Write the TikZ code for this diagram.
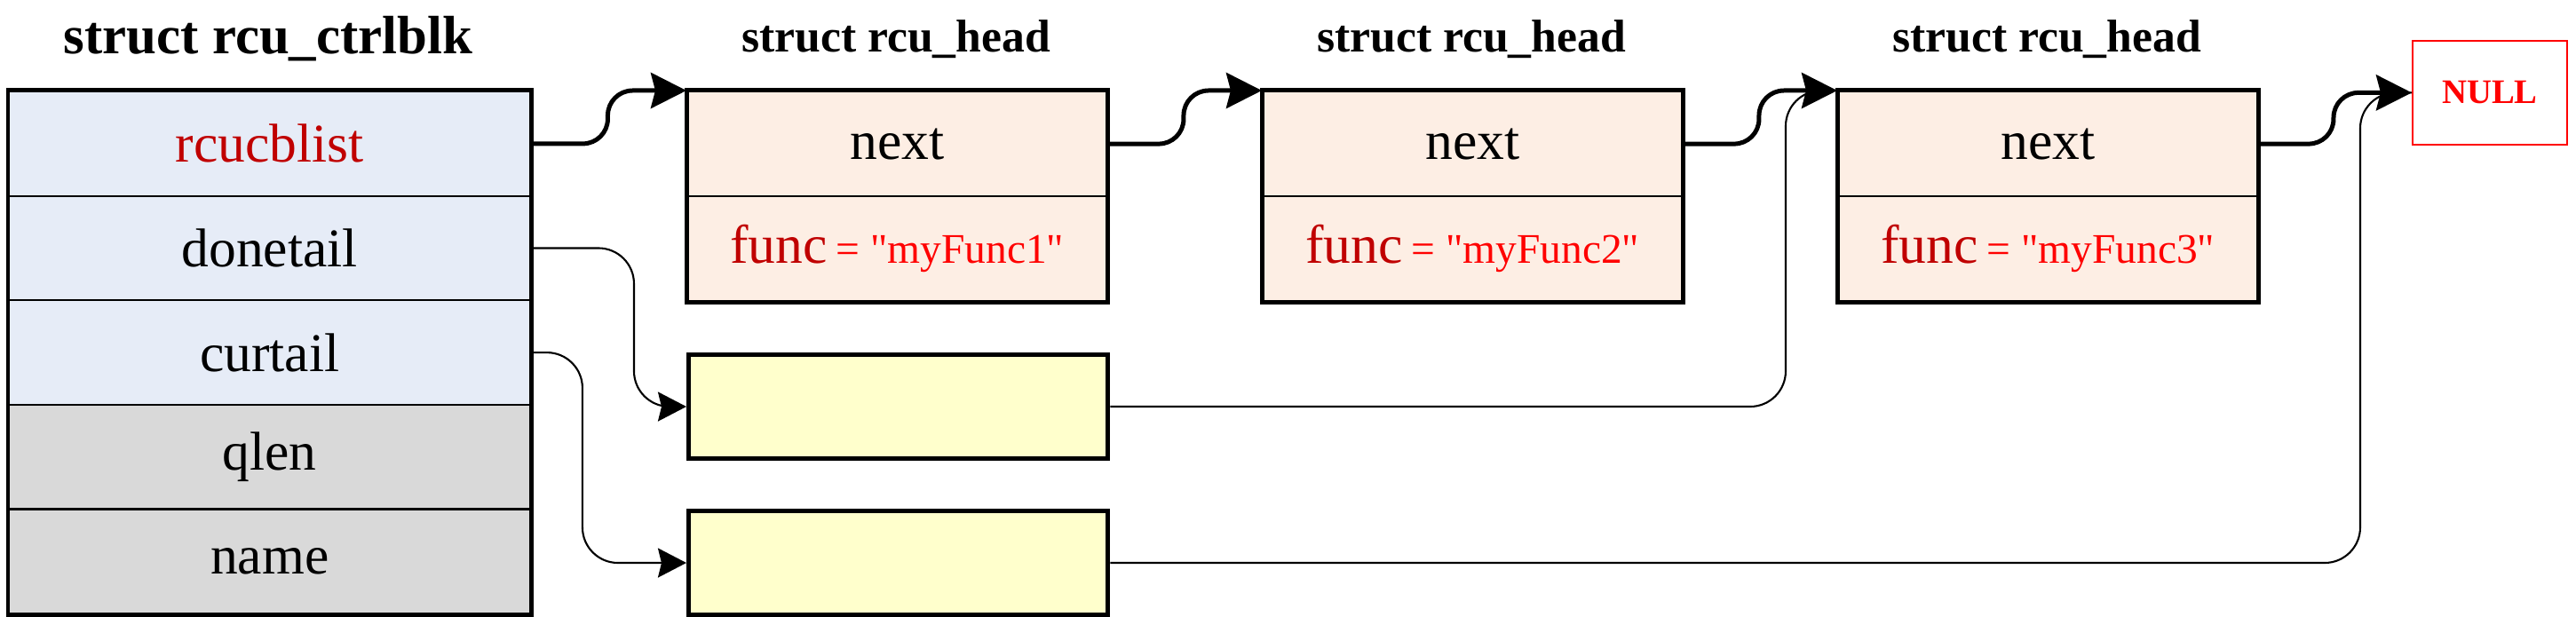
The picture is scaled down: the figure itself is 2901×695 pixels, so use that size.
\documentclass[tikz,border=0pt]{standalone}
\usepackage{fontspec}
\setmainfont{Liberation Serif}
\usetikzlibrary{arrows.meta,calc}
\definecolor{rowblue}{HTML}{E6ECF7}
\definecolor{rowgray}{HTML}{D9D9D9}
\definecolor{peach}{HTML}{FDEEE4}
\definecolor{paleyellow}{HTML}{FFFFCC}
\definecolor{darkred}{HTML}{C00000}
\definecolor{brightred}{HTML}{FF0000}
\begin{document}
\begin{tikzpicture}[x=0.01cm,y=-0.01cm,
  cell/.style={draw=black, line width=0.6pt, minimum width=5.87cm, minimum height=1.176cm,
    inner sep=0pt, anchor=north west, font=\fontsize{17.5}{20}\selectfont},
  hcell/.style={draw=black, line width=0.6pt, fill=peach, minimum width=4.72cm, minimum height=1.18cm,
    inner sep=0pt, anchor=north west, font=\fontsize{17.5}{20}\selectfont},
  ybox/.style={draw=black, line width=1.42pt, fill=paleyellow, minimum width=4.72cm, minimum height=1.17cm,
    inner sep=0pt, anchor=north west},
  border/.style={draw=black, line width=1.42pt},
  titlefont/.style={anchor=base, font=\bfseries\fontsize{14.7}{17}\selectfont},
  thickarrow/.style={line width=1.42pt, rounded corners=0.28cm,
    -{Stealth[length=0.4cm,width=0.4cm,inset=0.05cm]}},
  thinline/.style={line width=0.6pt, rounded corners=0.4cm},
  thinarrow/.style={thinline, -{Stealth[length=0.32cm,width=0.33cm,inset=0.04cm]}}
]
\useasboundingbox (0,0) rectangle (2901,695);

% titles
\node[anchor=base, font=\bfseries\fontsize{17.3}{20}\selectfont] (t0) at (302,61) {struct rcu\_ctrlblk};
\node[titlefont] (t1) at (1009,59) {struct rcu\_head};
\node[titlefont] (t2) at (1657,59) {struct rcu\_head};
\node[titlefont] (t3) at (2305,59) {struct rcu\_head};

% control block
\node[cell, fill=rowblue, text=darkred] (r1) at (9,102) {rcucblist};
\node[cell, fill=rowblue] (r2) at (9,219.6) {donetail};
\node[cell, fill=rowblue] (r3) at (9,337.2) {curtail};
\node[cell, fill=rowgray] (r4) at (9,454.8) {qlen};
\node[cell, fill=rowgray] (r5) at (9,572.4) {name};

% rcu_head boxes
\foreach \i/\x in {1/773,2/1421,3/2069}{
  \node[hcell] (h\i a) at (\x,102) {next};
  \node[hcell] (h\i b) at (\x,220) {\textcolor{darkred}{func}\,{\color{brightred}\fontsize{13.5}{16}\selectfont= \textquotedbl myFunc\i\textquotedbl}};
}

% yellow boxes
\node[ybox] (ya) at (773,397) {};
\node[ybox] (yb) at (773,573) {};

% NULL
\node[draw=brightred, line width=0.5pt, minimum width=1.74cm, minimum height=1.17cm, inner sep=0pt,
  anchor=north west, text=brightred, font=\bfseries\fontsize{11}{13}\selectfont] (nullbox) at (2716,45) {NULL};

% thin connectors
\draw[thinarrow] (r2.east) -| ([xshift=-0.59cm]ya.west) -- (ya.west);
\draw[thinarrow] (r3.east) -| ([xshift=-1.17cm]yb.west) -- (yb.west);
\draw[thinline] (ya.east) -| ([xshift=-0.58cm]h3a.north west) -- (h3a.north west);
\draw[thinline] (yb.east) -| ([xshift=-0.58cm]nullbox.west) -- (nullbox.west);

% thick next arrows
\draw[thickarrow] (r1.east) -| ([xshift=-0.885cm]h1a.north west) -- (h1a.north west);
\draw[thickarrow] (h1a.east) -| ([xshift=-0.88cm]h2a.north west) -- (h2a.north west);
\draw[thickarrow] (h2a.east) -| ([xshift=-0.88cm]h3a.north west) -- (h3a.north west);
\draw[thickarrow] (h3a.east) -| ([xshift=-0.88cm]nullbox.west) -- (nullbox.west);

% outer borders
\draw[border] (r1.north west) rectangle (r5.south east);
\draw[border] (h1a.north west) rectangle (h1b.south east);
\draw[border] (h2a.north west) rectangle (h2b.south east);
\draw[border] (h3a.north west) rectangle (h3b.south east);
\end{tikzpicture}
\end{document}
